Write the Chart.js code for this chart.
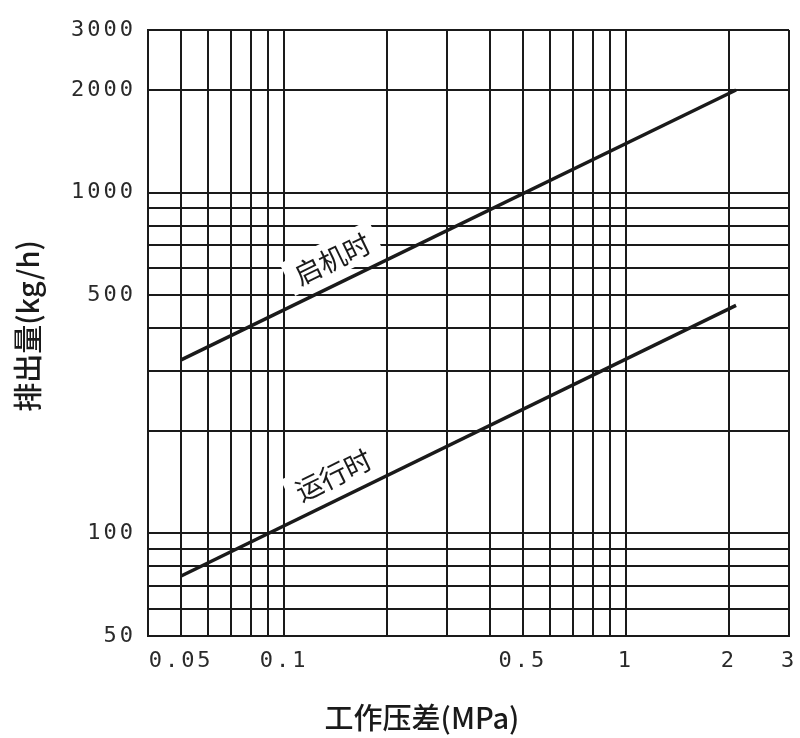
<!DOCTYPE html>
<html>
<head>
<meta charset="utf-8">
<script src="https://cdn.jsdelivr.net/npm/chart.js@4.4.1/dist/chart.umd.min.js"></script>
<style>
  html,body{margin:0;padding:0;background:#fff;}
  canvas{display:block;}
</style>
</head>
<body>
<canvas id="chart" width="800" height="738"></canvas>
<script>
// values (log-log chart)
const pressure = [0.05, 2.1];          // MPa
const startupFlow = [323, 2000];        // kg/h
const runningFlow = [75, 467];          // kg/h
const seriesNames = ["启机时", "运行时"];
const xTickLabels = [0.05, 0.1, 0.5, 1, 2, 3];
const yTickLabels = [50, 100, 500, 1000, 2000, 3000];
const xTitle = "工作压差(MPa)";
const yTitle = "排出量(kg/h)";

const toPoints = (ys) => pressure.map((p, i) => ({ x: p, y: ys[i] }));
const pick = (list, v) => list.find(t => Math.abs(t - v) < t * 1e-6);
// keep only 1..9 x 10^n grid lines (v4 also adds 1.5 steps)
const wholeSteps = (s) => {
  s.ticks = s.ticks.filter(t => {
    const m = t.value / Math.pow(10, Math.floor(Math.log10(t.value) + 1e-9));
    return Math.abs(m - Math.round(m)) < 1e-6;
  });
};

const INK = "#1a1a1a";
const CJK = '"Noto Sans CJK SC", "Noto Sans", sans-serif';
const TICK_FONT = { family: '"DejaVu Sans Mono", monospace', size: 22 };

// spaced-out digits like the original
const spacing = {
  id: "spacing",
  beforeDraw(chart){ chart.ctx.letterSpacing = "3px"; }
};

// rotated labels sitting on a white patch above each line
const lineLabels = {
  id: "lineLabels",
  beforeDatasetsDraw(chart, args, opts){
    const ctx = chart.ctx, xs = chart.scales.x, ys = chart.scales.y;
    chart.data.datasets.forEach((ds, i) => {
      const at = opts.at[i];
      const a = ds.data[0], b = ds.data[ds.data.length - 1];
      const ang = Math.atan2(ys.getPixelForValue(b.y) - ys.getPixelForValue(a.y),
                             xs.getPixelForValue(b.x) - xs.getPixelForValue(a.x));
      ctx.save();
      ctx.letterSpacing = "0px";
      ctx.translate(xs.getPixelForValue(at.x), ys.getPixelForValue(at.y));
      ctx.rotate(ang);
      ctx.font = "27px " + CJK;
      const w = ctx.measureText(ds.label).width;
      ctx.fillStyle = "#fff";
      ctx.fillRect(-w / 2 - 9, -18, w + 18, 36);
      ctx.fillStyle = INK;
      ctx.textAlign = "center";
      ctx.textBaseline = "middle";
      ctx.fillText(ds.label, 0, 1);
      ctx.restore();
    });
  }
};

const axisTitles = {
  id: "axisTitles",
  afterDraw(chart){
    const ctx = chart.ctx;
    ctx.save();
    ctx.letterSpacing = "0px";
    ctx.fillStyle = INK;
    ctx.font = "500 29px " + CJK;
    ctx.textAlign = "center";
    ctx.textBaseline = "middle";
    ctx.fillText(xTitle, 422, 718);
    ctx.translate(28, 326);
    ctx.rotate(-Math.PI / 2);
    ctx.fillText(yTitle, 0, 0);
    ctx.restore();
  }
};

new Chart(document.getElementById("chart"), {
  type: "line",
  data: {
    datasets: [
      { label: seriesNames[0], data: toPoints(startupFlow) },
      { label: seriesNames[1], data: toPoints(runningFlow) }
    ]
  },
  options: {
    responsive: false,
    animation: false,
    layout: { padding: { top: 30, right: 11, left: 0, bottom: 0 } },
    elements: {
      line: { borderColor: INK, borderWidth: 3.5, tension: 0 },
      point: { radius: 0 }
    },
    plugins: {
      legend: { display: false },
      tooltip: { enabled: false },
      lineLabels: { at: [ { x: 0.138, y: 642 }, { x: 0.139, y: 149 } ] }
    },
    scales: {
      x: {
        type: "logarithmic",
        min: 0.04,
        max: 3,
        afterBuildTicks: wholeSteps,
        afterFit(s){ s.height = 102; s.paddingLeft = 0; s.paddingRight = 0; },
        grid: { color: INK, lineWidth: 2, drawTicks: false },
        border: { color: INK, width: 2 },
        ticks: {
          autoSkip: false, maxRotation: 0, padding: 12,
          color: "#2a2a2a", font: TICK_FONT,
          callback: (v) => { const t = pick(xTickLabels, v); return t === undefined ? "" : String(t); }
        }
      },
      y: {
        type: "logarithmic",
        min: 50,
        max: 3000,
        afterBuildTicks: wholeSteps,
        afterFit(s){ s.width = 148; s.paddingTop = 0; s.paddingBottom = 0; },
        grid: { color: INK, lineWidth: 2, drawTicks: false },
        border: { color: INK, width: 2 },
        ticks: {
          autoSkip: false, padding: 12,
          color: "#2a2a2a", font: TICK_FONT,
          callback: (v) => { const t = pick(yTickLabels, v); return t === undefined ? "" : String(t); }
        }
      }
    }
  },
  plugins: [spacing, lineLabels, axisTitles]
});
</script>
</body>
</html>
